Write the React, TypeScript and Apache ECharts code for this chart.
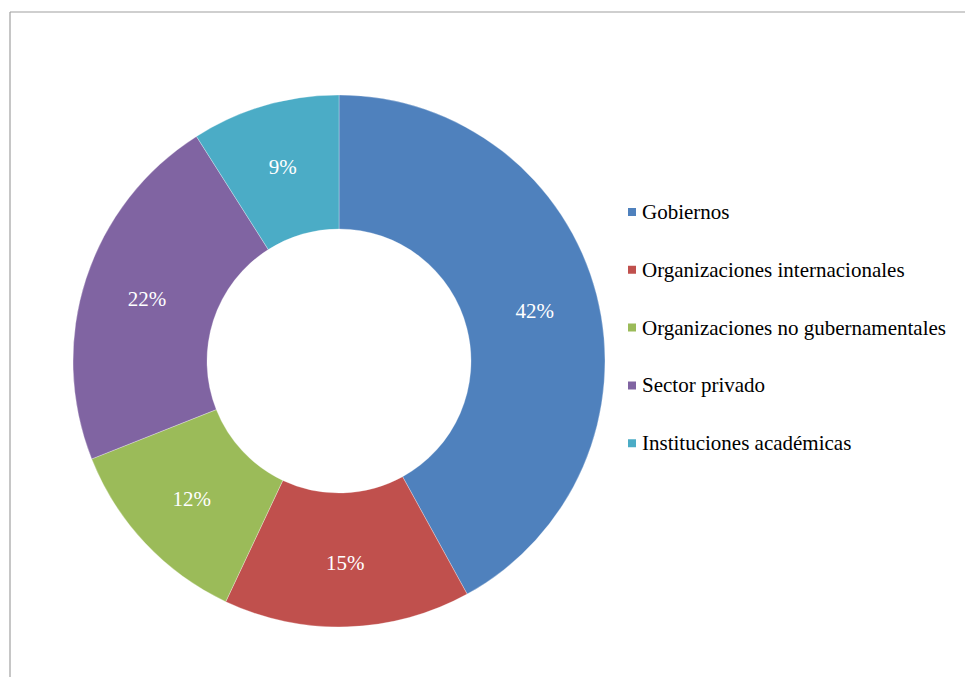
import React, { useEffect, useRef } from "react";
import * as echarts from "echarts";

const categories = [
  "Gobiernos",
  "Organizaciones internacionales",
  "Organizaciones no gubernamentales",
  "Sector privado",
  "Instituciones académicas",
];
const values = [42, 15, 12, 22, 9];
const colors = ["#4F81BD", "#C0504D", "#9BBB59", "#8064A2", "#4BACC6"];

export default function App() {
  const ref = useRef<HTMLDivElement>(null);
  useEffect(() => {
    if (!ref.current) return;
    const chart = echarts.init(ref.current, undefined, { renderer: "svg" });
    chart.setOption({
      animation: false,
      backgroundColor: "#ffffff",
      color: colors,
      legend: {
        orient: "vertical",
        left: 626,
        top: 201.5,
        padding: 0,
        itemWidth: 10,
        itemHeight: 10,
        itemGap: 36.8,
        icon: "rect",
        textStyle: {
          fontFamily: "Liberation Serif",
          fontSize: 21,
          lineHeight: 21,
          color: "#000000",
        },
        data: categories,
      },
      graphic: [
        {
          type: "line",
          shape: { x1: 10, y1: 12, x2: 965, y2: 12 },
          style: { stroke: "#a0a0a0", lineWidth: 1.2 },
        },
        {
          type: "line",
          shape: { x1: 10, y1: 12, x2: 10, y2: 677 },
          style: { stroke: "#a0a0a0", lineWidth: 1.2 },
        },
      ],
      series: [
        {
          type: "pie",
          center: [339, 361],
          radius: [132, 266],
          startAngle: 90,
          clockwise: true,
          avoidLabelOverlap: false,
          itemStyle: { borderColor: "#ffffff", borderWidth: 0.3 },
          label: {
            show: true,
            position: "inside",
            formatter: "{c}%",
            color: "#ffffff",
            fontFamily: "Liberation Serif",
            fontSize: 21,
          },
          labelLine: { show: false },
          emphasis: { disabled: true },
          data: categories.map((name, i) => ({ name, value: values[i] })),
        },
      ],
    });
    return () => chart.dispose();
  }, []);
  return (
    <div
      ref={ref}
      style={{ position: "fixed", left: 0, top: 0, width: 965, height: 677 }}
    />
  );
}
